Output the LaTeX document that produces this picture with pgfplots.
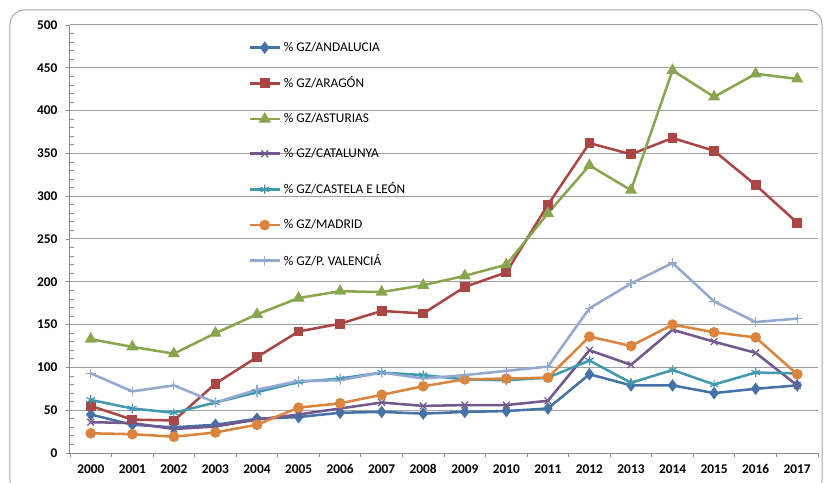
\documentclass[border=0pt]{standalone}
\usepackage{fontspec}
\setmainfont{Carlito}
\usepackage{pgfplots}
\usepackage{pgfplotstable}
\pgfplotsset{compat=1.18}

\definecolor{cAnd}{HTML}{4572A7}
\definecolor{cAra}{HTML}{AA4643}
\definecolor{cAst}{HTML}{89A54E}
\definecolor{cCat}{HTML}{71588F}
\definecolor{cCyl}{HTML}{4198AF}
\definecolor{cMad}{HTML}{DB843D}
\definecolor{cVal}{HTML}{93A9CF}

% x = 0 is 2000, ..., 17 is 2017
\pgfplotstableread{
x  and ara ast cat cyl mad val
0  45  55  133 36  62  23  93
1  33  39  124 35  52  22  72
2  30  38  116 28  47  19  79
3  33  81  140 31  59  24  59
4  40  112 162 39  71  33  74
5  42  142 181 45  83  53  84
6  47  151 189 52  87  58  85
7  48  166 188 59  94  68  94
8  46  163 196 55  91  78  87
9  48  194 207 56  86  86  91
10 49  211 220 56  85  87  96
11 52  290 280 61  88  88  101
12 92  362 336 120 108 136 169
13 79  349 307 103 82  125 198
14 79  368 447 144 97  150 222
15 70  353 416 130 80  141 177
16 75  313 443 117 94  135 153
17 79  269 437 79  93  92  157
}\data

\begin{document}
\begin{tikzpicture}[x=1pt,y=1pt]
\useasboundingbox (-52.5,-21.75) rectangle (568.5,339.75);
\draw[black!35, line width=0.75pt, rounded corners=11pt] (-45,-32) rectangle (564,332.25);
\begin{axis}[
    at={(0,0)},
    scale only axis,
    width=561pt, height=321pt,
    xmin=-0.5, xmax=17.5,
    ymin=0, ymax=500,
    axis x line*=bottom,
    axis y line*=left,
    axis line style={draw=black!45, line width=0.75pt},
    xtick={-0.5,0.5,...,17.5},
    x tick label as interval,
    xticklabels={2000,2001,2002,2003,2004,2005,2006,2007,2008,2009,2010,2011,2012,2013,2014,2015,2016,2017},
    ytick distance=50,
    minor y tick num=4,
    tick align=outside,
    major tick length=3pt,
    minor tick length=3pt,
    minor y tick style={xshift=3pt},
    tick style={draw=black!45, line width=0.6pt},
    ymajorgrids,
    major grid style={draw=black!38, line width=0.75pt},
    /pgf/number format/assume math mode=true,
    tick label style={font=\bfseries\fontsize{10}{12}\selectfont, text=black},
    yticklabel style={xshift=-3pt},
    xticklabel style={yshift=-2pt},
    every axis plot/.append style={line width=1.9pt},
    legend cell align=left,
    legend style={draw=none, fill=none, at={(0.238,0.967)}, anchor=north west,
        font=\fontsize{10}{12}\selectfont, row sep=13.6pt, inner sep=0pt},
    legend image code/.code={%
        \draw[mark repeat=2,mark phase=2] plot coordinates {(0cm,0cm)(0.4cm,0cm)(0.8cm,0cm)};},
]
\addplot[color=cAnd, mark=diamond*, mark size=3.2pt, mark options={solid}] table[x=x,y=and] {\data};
\addlegendentry{\% GZ/ANDALUCIA}
\addplot[color=cAra, mark=square*, mark size=2.7pt, mark options={solid}] table[x=x,y=ara] {\data};
\addlegendentry{\% GZ/ARAGÓN}
\addplot[color=cAst, mark=triangle*, mark size=3.4pt, mark options={solid}] table[x=x,y=ast] {\data};
\addlegendentry{\% GZ/ASTURIAS}
\addplot[color=cCat, mark=x, mark size=3.6pt, mark options={solid, line width=0.9pt}] table[x=x,y=cat] {\data};
\addlegendentry{\% GZ/CATALUNYA}
\addplot[color=cCyl, mark=asterisk, mark size=3.6pt, mark options={solid, line width=0.9pt}] table[x=x,y=cyl] {\data};
\addlegendentry{\% GZ/CASTELA E LEÓN}
\addplot[color=cMad, mark=*, mark size=3pt, mark options={solid}] table[x=x,y=mad] {\data};
\addlegendentry{\% GZ/MADRID}
\addplot[color=cVal, mark=+, mark size=3.6pt, mark options={solid, line width=0.9pt}] table[x=x,y=val] {\data};
\addlegendentry{\% GZ/P. VALENCIÁ}
\end{axis}
\end{tikzpicture}
\end{document}
